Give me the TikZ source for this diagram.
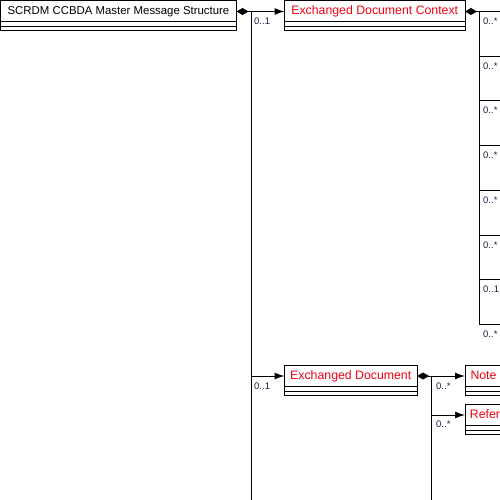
\documentclass[tikz,border=0pt]{standalone}
\usepackage{fontspec}
\setmainfont{Liberation Sans}
\usepackage{xcolor}
\usetikzlibrary{positioning,arrows.meta}
\definecolor{clsred}{RGB}{240,0,20}
\definecolor{multc}{RGB}{25,30,70}
\tikzset{
  cls/.style={rectangle, draw=black, line width=1pt, fill=white, minimum width=#1, minimum height=21pt,
    inner sep=0pt, outer sep=0pt, text height=9pt, text depth=2pt, font=\fontsize{12.3}{14}\selectfont},
  comp/.style={rectangle, draw=black, line width=1pt, fill=white, minimum width=#1, minimum height=9pt,
    inner sep=0pt, outer sep=0pt,
    path picture={\draw[line width=1pt] (path picture bounding box.west) -- (path picture bounding box.east);}},
  mult/.style={anchor=base west, inner sep=0pt, text=multc, font=\fontsize{9.5}{10}\selectfont},
  ln/.style={draw=black, line width=1pt},
  assoc/.style={ln, -{Latex[length=10pt,width=7pt]}},
  aggr/.style={ln, {Diamond[length=12pt,width=7pt]}-},
  xsd/.style={x=1pt, y=-1pt}
}

\begin{document}
\begin{tikzpicture}[xsd]
  \useasboundingbox (0,0) rectangle (500,500);
  \clip (0,0) rectangle (500,500);
  % classes
  \node[cls=236pt, font=\fontsize{11.4}{14}\selectfont] (root) at (118.5,11.5) {SCRDM CCBDA Master Message Structure};
  \node[comp=236pt, below=0pt of root] (rootc) {};
  \node[cls=180.5pt, text=clsred] (ctx) at (374.75,11.5) {Exchanged Document Context};
  \node[comp=180.5pt, below=0pt of ctx] (ctxc) {};
  \node[cls=132.5pt, text=clsred] (doc) at (350.75,376) {Exchanged Document};
  \node[comp=132.5pt, below=0pt of doc] (docc) {};
  \node[cls=37pt, text=clsred] (note) at (483.5,376) {Note};
  \node[comp=37pt, below=0pt of note] (notec) {};
  \node[cls=133pt, text=clsred] (ref) at (531.5,415) {Referenced Document};
  \node[comp=133pt, below=0pt of ref] (refc) {};
  % root links
  \coordinate (b1) at (251,11.5);
  \coordinate (b1end) at (251,505);
  \draw[aggr] (root.east) -- (b1);
  \draw[assoc] (b1) -- (ctx.west);
  \draw[ln] (b1) -- (b1end);
  \draw[assoc] (b1 |- doc.west) -- (doc.west);
  \node[mult] at (254,25) {0..1};
  \node[mult] at (254,389.5) {0..1};
  % context links
  \coordinate (b2) at (479,11.5);
  \draw[aggr] (ctx.east) -- (b2);
  \foreach \i/\m in {0/{0..*},1/{0..*},2/{0..*},3/{0..*},4/{0..*},5/{0..*},6/{0..1},7/{0..*}} {
    \coordinate (k\i) at (479,11.5+44.7*\i);
    \coordinate (e\i) at (516,11.5+44.7*\i);
    \draw[assoc] (k\i) -- (e\i);
    \node[mult] at (483,24.5+44.7*\i) {\m};
  }
  \draw[ln] (b2) -- (k7);
  % document links
  \coordinate (b3) at (431,376);
  \coordinate (b3end) at (431,505);
  \draw[aggr] (doc.east) -- (b3);
  \draw[assoc] (b3) -- (note.west);
  \draw[ln] (b3) -- (b3end);
  \draw[assoc] (b3 |- ref.west) -- (ref.west);
  \node[mult] at (436,389.5) {0..*};
  \node[mult] at (436,427.5) {0..*};
\end{tikzpicture}
\end{document}
